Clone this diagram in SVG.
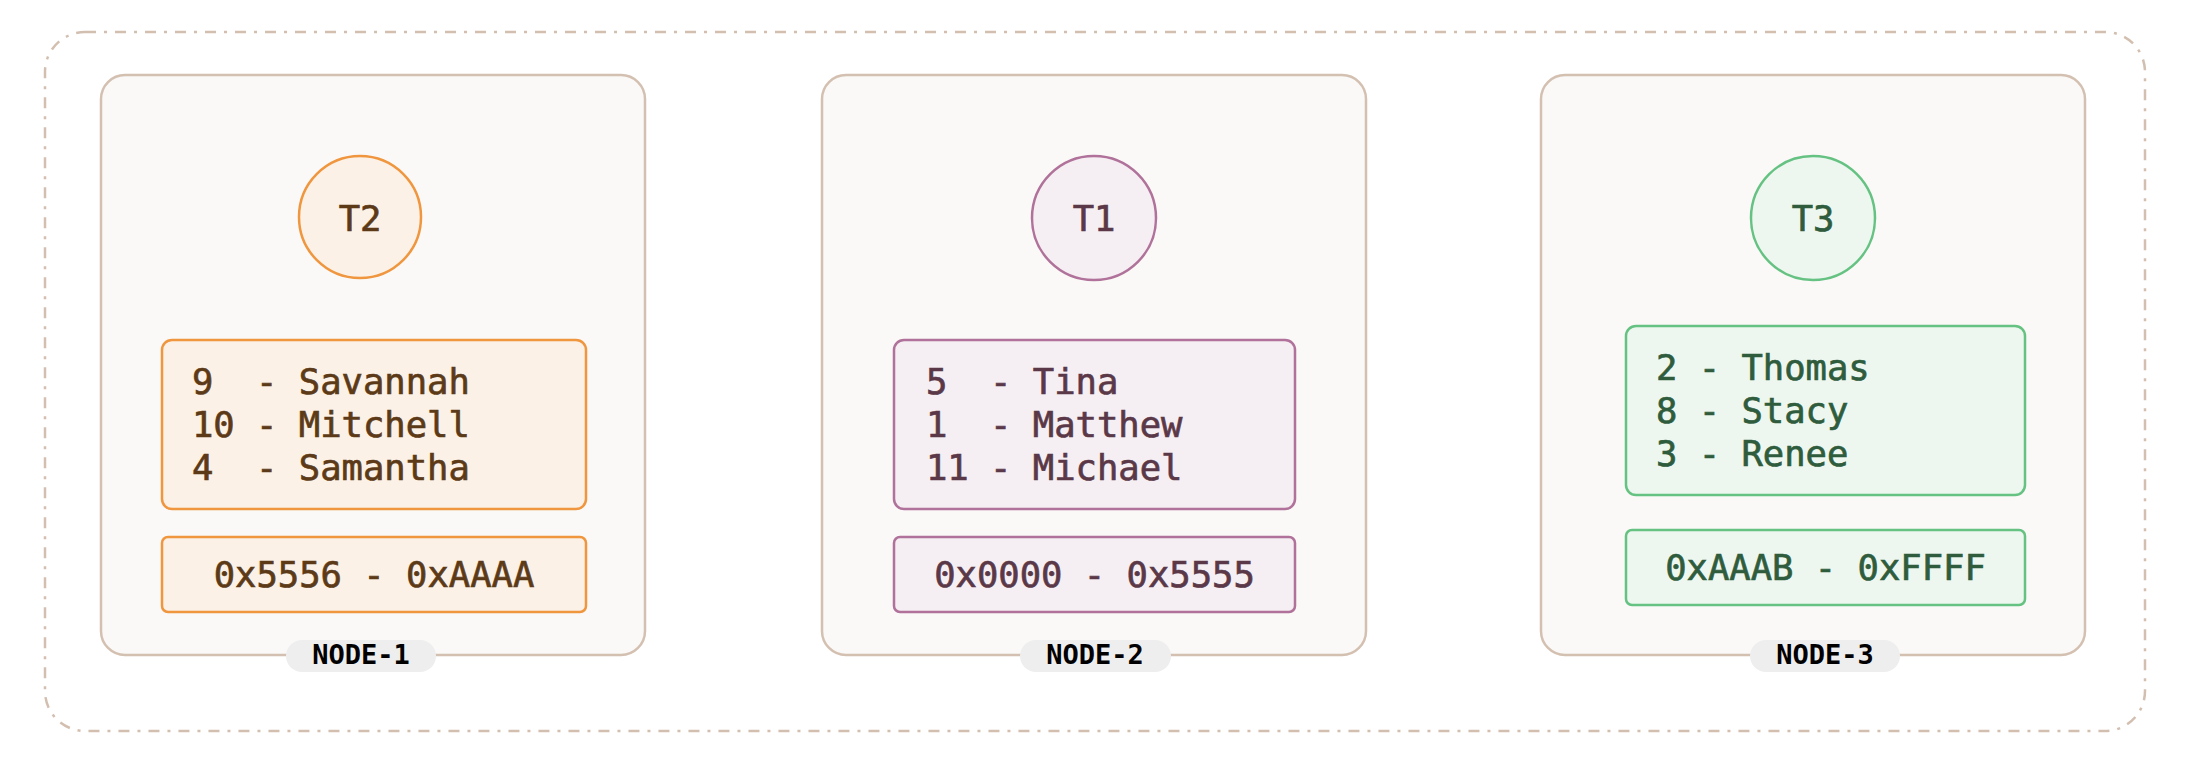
<svg xmlns="http://www.w3.org/2000/svg" width="2210" height="758" viewBox="0 0 2210 758">
<style>
.outer{fill:none;stroke:#d3bfb0;stroke-width:2.5;stroke-dasharray:11 8 3 8}
.node{fill:#faf9f7;stroke:#d4c0b1;stroke-width:2.5}
.mono{font-family:"DejaVu Sans Mono","Liberation Mono",monospace;font-size:35.5px;stroke-width:0.7px}
.pill{fill:#eeeeee}
.pilltxt{font-family:"DejaVu Sans Mono","Liberation Mono",monospace;font-size:27px;font-weight:bold;fill:#000;text-anchor:middle}
.o-s{fill:#fbf1e6;stroke:#ef963f;stroke-width:2.5}
.o-t{fill:#5c3a18;stroke:#5c3a18}
.p-s{fill:#f5eef2;stroke:#b0729a;stroke-width:2.5}
.p-t{fill:#5a3848;stroke:#5a3848}
.g-s{fill:#edf7ef;stroke:#66c282;stroke-width:2.5}
.g-t{fill:#2f5c3d;stroke:#2f5c3d}
.mid{text-anchor:middle}
</style>
<rect class="outer" x="45" y="32" width="2100" height="699" rx="40"/>
<g id="node-1">
<rect class="node" x="101" y="75" width="544" height="580" rx="24"/>
<circle class="o-s" cx="360" cy="217" r="61"/>
<text class="mono o-t mid" x="360" y="231">T2</text>
<rect class="o-s" x="162" y="340" width="424" height="169" rx="10"/>
<text class="mono o-t" x="192" y="394" xml:space="preserve">9  - Savannah</text>
<text class="mono o-t" x="192" y="437" xml:space="preserve">10 - Mitchell</text>
<text class="mono o-t" x="192" y="480" xml:space="preserve">4  - Samantha</text>
<rect class="o-s" x="162" y="537" width="424" height="75" rx="6"/>
<text class="mono o-t mid" x="374" y="587">0x5556 - 0xAAAA</text>
<rect class="pill" x="286" y="640" width="150" height="32" rx="16"/>
<text class="pilltxt" x="361" y="664">NODE-1</text>
</g>
<g id="node-2">
<rect class="node" x="822" y="75" width="544" height="580" rx="24"/>
<circle class="p-s" cx="1094" cy="218" r="62"/>
<text class="mono p-t mid" x="1094" y="231">T1</text>
<rect class="p-s" x="894" y="340" width="401" height="169" rx="10"/>
<text class="mono p-t" x="926" y="394" xml:space="preserve">5  - Tina</text>
<text class="mono p-t" x="926" y="437" xml:space="preserve">1  - Matthew</text>
<text class="mono p-t" x="926" y="480" xml:space="preserve">11 - Michael</text>
<rect class="p-s" x="894" y="537" width="401" height="75" rx="6"/>
<text class="mono p-t mid" x="1094.5" y="587">0x0000 - 0x5555</text>
<rect class="pill" x="1020" y="640" width="151" height="32" rx="16"/>
<text class="pilltxt" x="1095" y="664">NODE-2</text>
</g>
<g id="node-3">
<rect class="node" x="1541" y="75" width="544" height="580" rx="24"/>
<circle class="g-s" cx="1813" cy="218" r="62"/>
<text class="mono g-t mid" x="1813" y="231">T3</text>
<rect class="g-s" x="1626" y="326" width="399" height="169" rx="10"/>
<text class="mono g-t" x="1656" y="380" xml:space="preserve">2 - Thomas</text>
<text class="mono g-t" x="1656" y="423" xml:space="preserve">8 - Stacy</text>
<text class="mono g-t" x="1656" y="466" xml:space="preserve">3 - Renee</text>
<rect class="g-s" x="1626" y="530" width="399" height="75" rx="6"/>
<text class="mono g-t mid" x="1825.5" y="580">0xAAAB - 0xFFFF</text>
<rect class="pill" x="1750" y="640" width="150" height="32" rx="16"/>
<text class="pilltxt" x="1825" y="664">NODE-3</text>
</g>
<g id="connectors"/>
</svg>
